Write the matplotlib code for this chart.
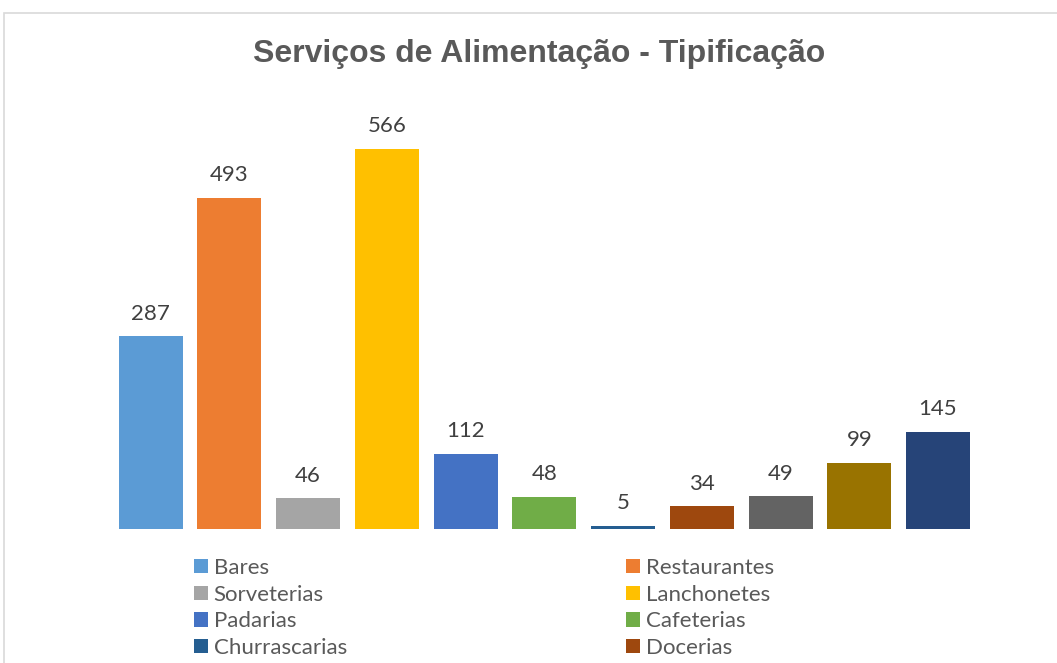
import matplotlib
matplotlib.use("Agg")
import matplotlib.pyplot as plt
from matplotlib.patches import Rectangle, Patch

categories = ["Bares", "Restaurantes", "Sorveterias", "Lanchonetes", "Padarias",
              "Cafeterias", "Churrascarias", "Docerias", "", "", ""]
values = [287, 493, 46, 566, 112, 48, 5, 34, 49, 99, 145]
colors = ["#5B9BD5", "#ED7D31", "#A5A5A5", "#FFC000", "#4472C4", "#70AD47",
          "#255E91", "#9E480E", "#636363", "#997300", "#264478"]
title = "Serviços de Alimentação - Tipificação"

W, H = 1057, 663
fig = plt.figure(figsize=(W / 100, H / 100), dpi=100)

# chart border (cropped at right and bottom)
fig.patches.append(Rectangle((4 / W, -0.2), 1.2, (H - 13) / H + 0.2, transform=fig.transFigure,
                             fill=False, edgecolor="#D9D9D9", linewidth=1.2))

# axes in pixel coordinates
step = 78.75
c0 = 150.5
left_px, right_px = 100, 990
bottom_px = H - 529
ymax = 600
top_px_from_top = 529 - 0.6714 * ymax
ax = fig.add_axes([left_px / W, bottom_px / H, (right_px - left_px) / W,
                   (529 - top_px_from_top) / H])
ax.set_xlim((left_px - c0) / step, (right_px - c0) / step)
ax.set_ylim(0, ymax)
ax.axis("off")

xs = list(range(len(values)))
bars = ax.bar(xs, values, width=64 / step, color=colors)
for x, v in zip(xs, values):
    ax.annotate(str(v), (x, v), xytext=(0, 9), textcoords="offset points",
                ha="center", va="bottom", fontsize=16, color="#404040", family="Lato")

fig.text(539 / W, 1 - 54 / H, title, ha="center", va="center", fontsize=23,
         fontweight="bold", color="#595959", family="Liberation Sans")

handles = [Patch(facecolor=c) for c in colors]
left_idx = [i for i in range(0, len(values), 2) if categories[i]]
right_idx = [i for i in range(1, len(values), 2) if categories[i]]
for idx, xpx in ((left_idx, 194), (right_idx, 626)):
    leg = fig.legend([handles[i] for i in idx], [categories[i] for i in idx],
                     loc="upper left", bbox_to_anchor=(xpx / W, 1 - 558 / H),
                     frameon=False, prop={"family": "Lato", "size": 16},
                     handlelength=0.63, handleheight=0.63, handletextpad=0.25,
                     labelspacing=0.3, borderpad=0, borderaxespad=0,
                     labelcolor="#595959")

fig.savefig("out.png", dpi=100)
